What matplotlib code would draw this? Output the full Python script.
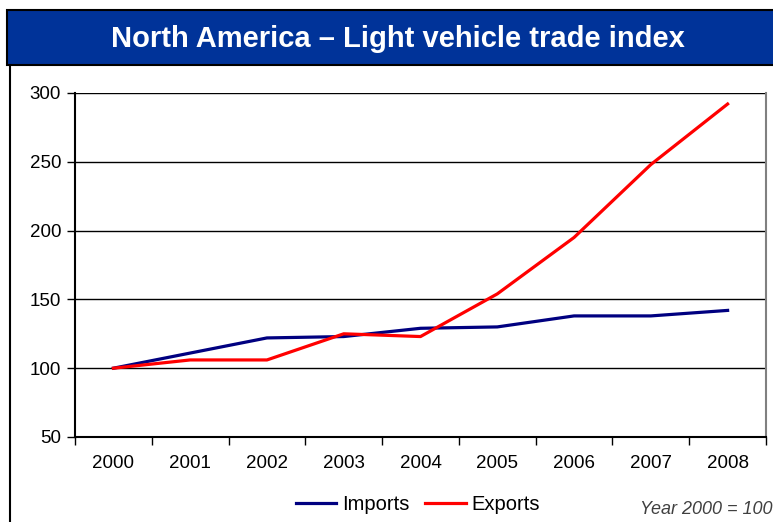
import matplotlib.pyplot as plt
from matplotlib.patches import Rectangle
from matplotlib.lines import Line2D

plt.rcParams['font.family'] = ['Liberation Sans', 'DejaVu Sans']

# chart data (index, year 2000 = 100)
years = ['2000', '2001', '2002', '2003', '2004', '2005', '2006', '2007', '2008']
imports = [100, 111, 122, 123, 129, 130, 138, 138, 142]
exports = [100, 106, 106, 125, 123, 154, 195, 248, 292]

W, H = 773, 522
fig = plt.figure(figsize=(W / 100, H / 100), dpi=100)

# title bar
fig.patches.append(Rectangle((7 / W, 1 - 65 / H), 1, 55 / H, transform=fig.transFigure,
                             facecolor='#003399', edgecolor='black', linewidth=1.5))
fig.text(398 / W, 1 - 39 / H, 'North America \u2013 Light vehicle trade index', color='white',
         fontsize=21, fontweight='bold', ha='center', va='center')
# outer frame left edge
fig.lines.append(Line2D([9.5 / W, 9.5 / W], [0, 1 - 65 / H], transform=fig.transFigure,
                        color='black', linewidth=1.5))

ax = fig.add_axes([75 / W, 1 - 437 / H, 691 / W, 344 / H])
x = range(len(years))
ax.plot(x, imports, color='#000080', linewidth=2.3, label='Imports')
ax.plot(x, exports, color='#ff0000', linewidth=2.3, label='Exports')

ax.set_xlim(-0.5, len(years) - 0.5)
ax.set_ylim(50, 300)
ax.set_yticks([50, 100, 150, 200, 250, 300])
ax.set_xticks(list(x))
ax.set_xticklabels(years)
ax.set_xticks([i - 0.5 for i in range(len(years) + 1)], minor=True)
ax.tick_params(axis='x', which='major', length=0, pad=13, labelsize=13.5)
ax.tick_params(axis='x', which='minor', length=6, width=1, direction='out')
ax.tick_params(axis='y', length=6, width=1, direction='out', labelsize=13.5, pad=4)
ax.yaxis.grid(True, color='black', linewidth=1)
ax.set_axisbelow(True)
ax.spines['left'].set_linewidth(1.5)
ax.spines['bottom'].set_linewidth(1.5)
ax.spines['top'].set_visible(False)
ax.spines['right'].set_color('#808080')
ax.spines['right'].set_linewidth(1.5)

fig.legend(loc='center', bbox_to_anchor=(418 / W, 1 - 505 / H), ncol=2, frameon=False,
           fontsize=14.5, handlelength=2.0, columnspacing=0.8, handletextpad=0.3)
fig.text(772 / W, 1 - 509 / H, 'Year 2000 = 100', fontsize=13, style='italic', color='#404040',
         ha='right', va='center')

fig.savefig('out.png', dpi=100)
